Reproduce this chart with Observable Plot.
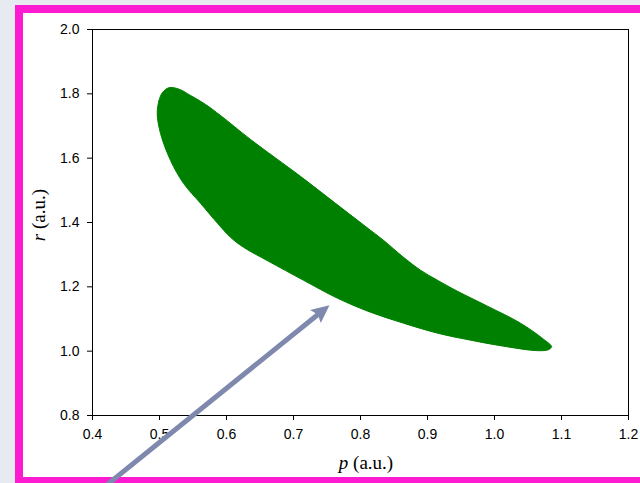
<!DOCTYPE html>
<html>
<head>
<meta charset="utf-8">
<script src="https://cdn.jsdelivr.net/npm/d3@7"></script>
<script src="https://cdn.jsdelivr.net/npm/@observablehq/plot@0.6"></script>
<style>
  html, body { margin: 0; padding: 0; }
  body { width: 640px; height: 483px; background: #e8eaf2; position: relative; overflow: hidden; }
  #frame { position: absolute; left: 15px; top: 5px; width: 660px; height: 480px; box-sizing: border-box;
           border: 8px solid #fd1ad0; background: #fff; }
  #chart { position: absolute; left: 0; top: 0; }
</style>
</head>
<body>
<div id="frame"></div>
<div id="chart"></div>
<script>
// Boundary of the (p, r) region: upper edge left to right, then lower edge back
const regionP = [0.4966, 0.4993, 0.5045, 0.5139, 0.5284, 0.5463, 0.5687, 0.5910, 0.6358, 0.7104, 0.7627, 0.8149, 0.8343,
                 0.8642, 0.8896, 0.9149, 0.9448, 0.9896, 1.0388, 1.0731, 1.0851,
                 1.0806, 1.0642, 1.0134, 0.9642, 0.9149, 0.8642, 0.8149, 0.7657, 0.7149, 0.6627, 0.6254, 0.6060,
                 0.5866, 0.5612, 0.5358, 0.5164, 0.5015];
const regionR = [1.7382, 1.7795, 1.8043, 1.8189, 1.8152, 1.7950, 1.7671, 1.7329, 1.6584, 1.5435, 1.4596, 1.3758, 1.3447,
                 1.2919, 1.2516, 1.2205, 1.1863, 1.1398, 1.0870, 1.0373, 1.0140,
                 1.0047, 1.0016, 1.0155, 1.0342, 1.0559, 1.0870, 1.1211, 1.1646, 1.2205, 1.2795, 1.3230, 1.3540,
                 1.3975, 1.4596, 1.5217, 1.5932, 1.6770];

// Axis ticks
const pTicks = [0.4, 0.5, 0.6, 0.7, 0.8, 0.9, 1.0, 1.1, 1.2];
const rTicks = [0.8, 1.0, 1.2, 1.4, 1.6, 1.8, 2.0];

// Pointer arrow (its tail starts below the plotting area)
const arrowFrom = {p: 0.4119, r: 0.5683};
const arrowTo = {p: 0.7537, r: 1.1429};

const region = regionP.map((p, i) => ({p, r: regionR[i]}));
const fmt = d3.format(".1f");
const arrowColor = "#7f89ad";

// Filled arrowhead whose tip sits at the origin and points up
const headLen = 18, headHalf = 8.5;
const arrowHead = {
  draw(context) {
    context.moveTo(0, 0);
    context.lineTo(headHalf, headLen);
    context.lineTo(0, headLen - 3);
    context.lineTo(-headHalf, headLen);
    context.closePath();
  }
};

const layout = {
  width: 640,
  height: 483,
  marginLeft: 92,
  marginRight: 12,
  marginTop: 29,
  marginBottom: 68,
  x: {domain: [0.4, 1.2]},
  y: {domain: [0.8, 2.0]},
  style: {background: "transparent", fontFamily: "'Liberation Sans', Arial, sans-serif", fontSize: "14px", color: "#000"}
};

// Screen direction of the arrow, from the plot's own scales
const probe = Plot.plot({...layout, marks: [Plot.frame()]});
const sx = probe.scale("x"), sy = probe.scale("y");
const dx = sx.apply(arrowTo.p) - sx.apply(arrowFrom.p);
const dy = sy.apply(arrowTo.r) - sy.apply(arrowFrom.r);
const headAngle = Math.atan2(dx, -dy) * 180 / Math.PI;

const plot = Plot.plot({
  ...layout,
  marks: [
    Plot.line(region, {x: "p", y: "r", curve: "catmull-rom-closed", fill: "#008000", stroke: "#008000", strokeWidth: 1}),
    Plot.frame({stroke: "#000"}),
    Plot.axisX({ticks: pTicks, tickFormat: fmt, tickSize: 5, tickPadding: 9, label: null}),
    Plot.axisY({ticks: rTicks, tickFormat: fmt, tickSize: 5, tickPadding: 8, label: null}),
    Plot.arrow([{x1: arrowFrom.p, y1: arrowFrom.r, x2: arrowTo.p, y2: arrowTo.r}],
      {x1: "x1", y1: "y1", x2: "x2", y2: "y2", stroke: arrowColor, strokeWidth: 5, headLength: 0, insetEnd: 12}),
    Plot.dot([arrowTo], {x: "p", y: "r", symbol: arrowHead, fill: arrowColor, stroke: "none", rotate: headAngle})
  ]
});

// Axis titles with an italic variable name
const svg = d3.select(plot);
const xt = svg.append("text")
  .attr("x", 366).attr("y", 469)
  .attr("text-anchor", "middle")
  .style("font-family", "'Liberation Serif', 'Times New Roman', serif")
  .style("font-size", "19px");
xt.append("tspan").style("font-style", "italic").text("p");
xt.append("tspan").text(" (a.u.)");

const yt = svg.append("text")
  .attr("transform", "translate(45,215) rotate(-90)")
  .attr("text-anchor", "middle")
  .style("font-family", "'Liberation Serif', 'Times New Roman', serif")
  .style("font-size", "19px");
yt.append("tspan").style("font-style", "italic").text("r");
yt.append("tspan").text(" (a.u.)");

document.getElementById("chart").appendChild(plot);
</script>
</body>
</html>
